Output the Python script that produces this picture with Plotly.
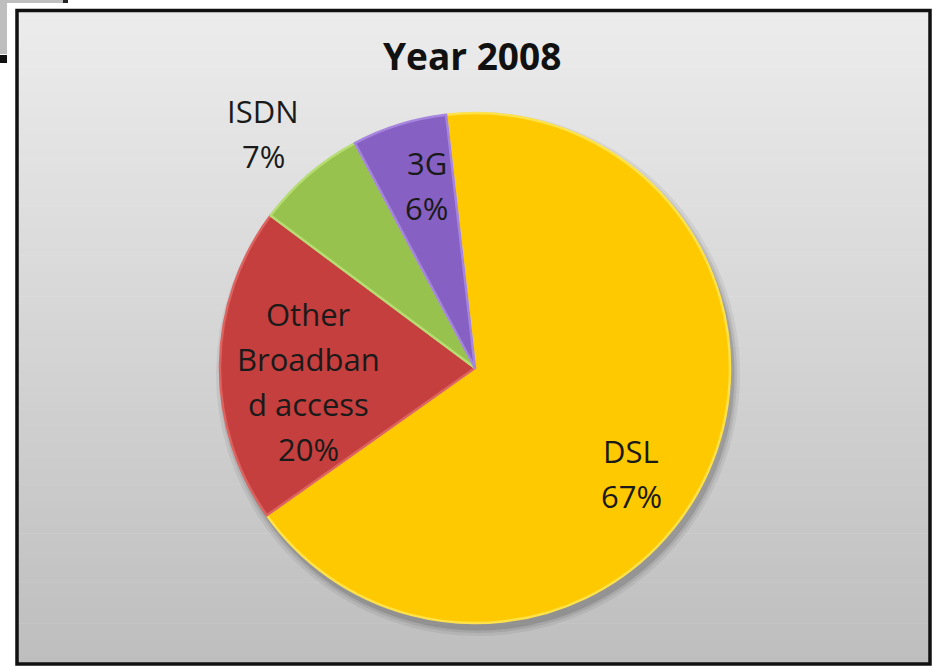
import math
import plotly.graph_objects as go

# Broadband access shares, year 2008
categories = ["DSL", "Other Broadband access", "ISDN", "3G"]
shares = [67, 20, 7, 6]
label_lines = [["DSL"], ["Other", "Broadban", "d access"], ["ISDN"], ["3G"]]
title_text = "Year 2008"

W, H = 934, 666

slice_colors = ["#FFC900", "#C43F3D", "#97C24E", "#8660C2"]
edge_colors = ["#FFE24A", "#DC6360", "#B6DD72", "#A585DE"]

# pie geometry in pixels
cx, cy, R = 475, 368, 255
rotation = -6.5

# label placement: radius fraction and angle nudge (degrees) per slice
label_rfrac = [0.74, 0.655, 1.24, 0.74]
label_nudge = [10.0, -5.2, -1.4, 2.5]
line_gap = 45

FONT = "Open Sans, Lato, sans-serif"


def px(x):
    return x / W


def py(y):
    return 1 - y / H


shapes = []

# outer page elements
shapes.append(dict(type="rect", xref="paper", yref="paper",
                   x0=px(0), x1=px(63), y0=py(54), y1=py(0),
                   fillcolor="#BEBEBE", line=dict(width=0), layer="below"))
shapes.append(dict(type="rect", xref="paper", yref="paper",
                   x0=px(63), x1=px(68), y0=py(3), y1=py(0),
                   fillcolor="#222222", line=dict(width=0), layer="below"))
shapes.append(dict(type="rect", xref="paper", yref="paper",
                   x0=px(0), x1=px(8), y0=py(63), y1=py(55),
                   fillcolor="#111111", line=dict(width=0), layer="below"))
shapes.append(dict(type="rect", xref="paper", yref="paper",
                   x0=px(7), x1=px(934), y0=py(666), y1=py(3),
                   fillcolor="#FFFFFF", line=dict(width=0), layer="below"))

# vertical grey gradient inside the frame
fx0, fx1, fy0, fy1 = 17, 930, 10, 664
steps = 80
top_rgb = (236, 236, 236)
bot_rgb = (190, 190, 190)
for i in range(steps):
    t = i / (steps - 1)
    c = tuple(round(a + (b - a) * t) for a, b in zip(top_rgb, bot_rgb))
    y0 = fy0 + (fy1 - fy0) * i / steps
    y1 = fy0 + (fy1 - fy0) * (i + 1) / steps + 0.6
    shapes.append(dict(type="rect", xref="paper", yref="paper",
                       x0=px(fx0), x1=px(fx1), y0=py(y1), y1=py(y0),
                       fillcolor="rgb(%d,%d,%d)" % c, line=dict(width=0),
                       layer="below"))

# black frame
shapes.append(dict(type="rect", xref="paper", yref="paper",
                   x0=px(17), x1=px(930), y0=py(664), y1=py(10.5),
                   fillcolor="rgba(0,0,0,0)",
                   line=dict(color="#111111", width=3.5), layer="below"))

fig = go.Figure()

# soft drop shadow under the pie
for grow, alpha in [(7, 0.06), (4, 0.08), (1.5, 0.12)]:
    sx, sy, sr = cx + 3, cy + 6, R + grow
    fig.add_trace(go.Pie(
        values=shares, labels=categories, sort=False, direction="clockwise",
        rotation=rotation, textinfo="none", hoverinfo="skip", showlegend=False,
        marker=dict(colors=["rgba(0,0,0,%.2f)" % alpha] * len(shares),
                    line=dict(width=0)),
        domain=dict(x=[px(sx - sr), px(sx + sr)], y=[py(sy + sr), py(sy - sr)]),
    ))

# main pie
fig.add_trace(go.Pie(
    values=shares, labels=categories, sort=False, direction="clockwise",
    rotation=rotation, textinfo="none", showlegend=False,
    marker=dict(colors=slice_colors, line=dict(color=edge_colors, width=2.5)),
    domain=dict(x=[px(cx - R), px(cx + R)], y=[py(cy + R), py(cy - R)]),
))

# slice labels from the shares and slice angles
annotations = []
total = sum(shares)
start = rotation
for i, (v, lines) in enumerate(zip(shares, label_lines)):
    span = 360 * v / total
    mid = start + span / 2 + label_nudge[i]
    start += span
    r = R * label_rfrac[i]
    lx = cx + r * math.sin(math.radians(mid))
    ly = cy - r * math.cos(math.radians(mid))
    all_lines = lines + ["%d%%" % v]
    n = len(all_lines)
    for j, txt in enumerate(all_lines):
        yy = ly + (j - (n - 1) / 2) * line_gap
        annotations.append(dict(
            x=px(lx), y=py(yy), xref="paper", yref="paper", text=txt,
            showarrow=False, xanchor="center", yanchor="middle",
            font=dict(family=FONT, size=31, color="#1A1A1A"),
        ))

annotations.append(dict(
    x=px(472), y=py(56), xref="paper", yref="paper",
    text="<b>%s</b>" % title_text, showarrow=False,
    xanchor="center", yanchor="middle",
    font=dict(family=FONT, size=37, color="#111111"),
))

fig.update_layout(
    width=W, height=H,
    margin=dict(l=0, r=0, t=0, b=0),
    paper_bgcolor="#FFFFFF",
    shapes=shapes,
    annotations=annotations,
    showlegend=False,
)

fig.write_html("out.html")
